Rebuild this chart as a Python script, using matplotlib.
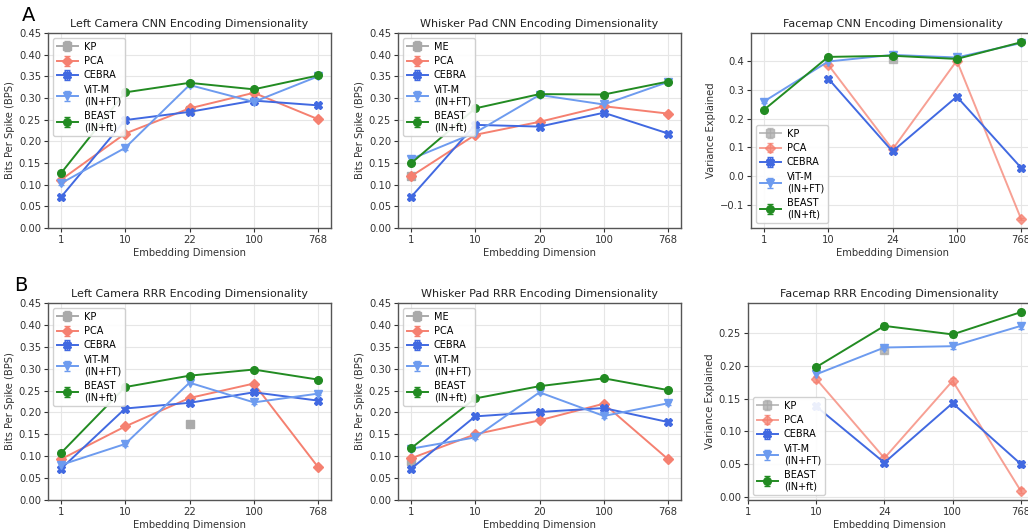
import matplotlib
matplotlib.use("Agg")
import matplotlib.pyplot as plt
import numpy as np

nan = np.nan

# ---- data ----
x_labels_lc = ["1", "10", "22", "100", "768"]
x_labels_wp = ["1", "10", "20", "100", "768"]
x_labels_fm = ["1", "10", "24", "100", "768"]

# A: CNN encoding
lc_cnn_kp = [nan, nan, 0.272, nan, nan]
lc_cnn_pca = [0.111, 0.218, 0.276, 0.312, 0.251]
lc_cnn_cebra = [0.071, 0.249, 0.268, 0.294, 0.283]
lc_cnn_vit = [0.103, 0.185, 0.330, 0.291, 0.350]
lc_cnn_beast = [0.126, 0.313, 0.335, 0.320, 0.352]

wp_cnn_me = [0.119, nan, nan, nan, nan]
wp_cnn_pca = [0.119, 0.215, 0.245, 0.281, 0.264]
wp_cnn_cebra = [0.071, 0.238, 0.234, 0.266, 0.218]
wp_cnn_vit = [0.159, 0.220, 0.307, 0.285, 0.337]
wp_cnn_beast = [0.149, 0.276, 0.309, 0.308, 0.338]

fm_cnn_kp = [nan, nan, 0.405, nan, nan]
fm_cnn_pca = [nan, 0.387, 0.093, 0.401, -0.149]
fm_cnn_cebra = [nan, 0.339, 0.086, 0.276, 0.029]
fm_cnn_vit = [0.259, 0.398, 0.421, 0.412, 0.462]
fm_cnn_beast = [0.230, 0.414, 0.418, 0.407, 0.465]

# B: RRR encoding
lc_rrr_kp = [nan, nan, 0.173, nan, nan]
lc_rrr_pca = [0.093, 0.168, 0.233, 0.266, 0.075]
lc_rrr_cebra = [0.071, 0.209, 0.222, 0.246, 0.227]
lc_rrr_vit = [0.080, 0.128, 0.268, 0.223, 0.243]
lc_rrr_beast = [0.107, 0.258, 0.284, 0.298, 0.275]

wp_rrr_me = [0.088, nan, nan, nan, nan]
wp_rrr_pca = [0.095, 0.150, 0.182, 0.220, 0.093]
wp_rrr_cebra = [0.071, 0.191, 0.201, 0.210, 0.178]
wp_rrr_vit = [0.117, 0.143, 0.246, 0.192, 0.221]
wp_rrr_beast = [0.118, 0.232, 0.260, 0.278, 0.251]

fm_rrr_kp = [nan, nan, 0.224, nan, nan]
fm_rrr_pca = [nan, 0.180, 0.059, 0.177, 0.009]
fm_rrr_cebra = [nan, 0.138, 0.052, 0.143, 0.050]
fm_rrr_vit = [nan, 0.187, 0.228, 0.230, 0.261]
fm_rrr_beast = [nan, 0.198, 0.261, 0.248, 0.282]

err = 0.004  # small error bars (barely visible)

styles = {
    "KP": dict(color="#aaaaaa", marker="s"),
    "ME": dict(color="#aaaaaa", marker="s"),
    "PCA": dict(color="#f58070", marker="D"),
    "CEBRA": dict(color="#4169e1", marker="X"),
    "ViT-M\n(IN+FT)": dict(color="#6d9bef", marker="v"),
    "BEAST\n(IN+ft)": dict(color="#228b22", marker="o"),
}

W, H = 1028, 529
fig = plt.figure(figsize=(W / 100, H / 100), dpi=100)


def px_axes(left, top, width, height):
    return fig.add_axes([left / W, 1 - (top + height) / H, width / W, height / H])


def panel(ax, title, xlabels, series, ylabel, legend_loc, ylim, yticks, xlim=None,
          light=False):
    x = np.arange(len(xlabels))
    for name, vals in series:
        st = styles[name]
        a = 1.0
        if light and name in ("KP", "ME", "PCA"):
            a = 0.75
        ax.errorbar(x, vals, yerr=err, color=st["color"], marker=st["marker"],
                    markersize=5.5, linewidth=1.4, capsize=2.5, elinewidth=1.0,
                    label=name, alpha=a)
    ax.set_xticks(x)
    ax.set_xticklabels(xlabels)
    if xlim is not None:
        ax.set_xlim(*xlim)
    else:
        ax.set_xlim(-0.2, len(xlabels) - 0.8)
    ax.set_ylim(*ylim)
    ax.set_yticks(yticks)
    ax.grid(True, color="#e6e6e6", linewidth=0.8)
    ax.set_axisbelow(True)
    ax.set_title(title, fontsize=8, pad=4, color="#222222")
    ax.set_xlabel("Embedding Dimension", fontsize=7.2, labelpad=2, color="#333333")
    ax.set_ylabel(ylabel, fontsize=7.2, labelpad=3, color="#333333")
    ax.tick_params(labelsize=7.2, length=3, colors="#333333", pad=2)
    for s in ax.spines.values():
        s.set_color("#555555")
        s.set_linewidth(1.0)
    ax.legend(loc=legend_loc, fontsize=7, handlelength=2.2, borderpad=0.4,
              labelspacing=0.45, handletextpad=0.6, framealpha=0.9)


bps_ticks = np.arange(0, 0.451, 0.05)

# Row A
ax = px_axes(48, 33, 283, 195)
panel(ax, "Left Camera CNN Encoding Dimensionality", x_labels_lc,
      [("KP", lc_cnn_kp), ("PCA", lc_cnn_pca), ("CEBRA", lc_cnn_cebra),
       ("ViT-M\n(IN+FT)", lc_cnn_vit), ("BEAST\n(IN+ft)", lc_cnn_beast)],
      "Bits Per Spike (BPS)", "upper left", (0, 0.45), bps_ticks)

ax = px_axes(398, 33, 283, 195)
panel(ax, "Whisker Pad CNN Encoding Dimensionality", x_labels_wp,
      [("ME", wp_cnn_me), ("PCA", wp_cnn_pca), ("CEBRA", wp_cnn_cebra),
       ("ViT-M\n(IN+FT)", wp_cnn_vit), ("BEAST\n(IN+ft)", wp_cnn_beast)],
      "Bits Per Spike (BPS)", "upper left", (0, 0.45), bps_ticks)

ax = px_axes(751, 33, 283, 195)
panel(ax, "Facemap CNN Encoding Dimensionality", x_labels_fm,
      [("KP", fm_cnn_kp), ("PCA", fm_cnn_pca), ("CEBRA", fm_cnn_cebra),
       ("ViT-M\n(IN+FT)", fm_cnn_vit), ("BEAST\n(IN+ft)", fm_cnn_beast)],
      "Variance Explained", "lower left", (-0.18, 0.497),
      [-0.1, 0.0, 0.1, 0.2, 0.3, 0.4], light=True)

# Row B
ax = px_axes(48, 303, 283, 197)
panel(ax, "Left Camera RRR Encoding Dimensionality", x_labels_lc,
      [("KP", lc_rrr_kp), ("PCA", lc_rrr_pca), ("CEBRA", lc_rrr_cebra),
       ("ViT-M\n(IN+FT)", lc_rrr_vit), ("BEAST\n(IN+ft)", lc_rrr_beast)],
      "Bits Per Spike (BPS)", "upper left", (0, 0.45), bps_ticks)

ax = px_axes(398, 303, 283, 197)
panel(ax, "Whisker Pad RRR Encoding Dimensionality", x_labels_wp,
      [("ME", wp_rrr_me), ("PCA", wp_rrr_pca), ("CEBRA", wp_rrr_cebra),
       ("ViT-M\n(IN+FT)", wp_rrr_vit), ("BEAST\n(IN+ft)", wp_rrr_beast)],
      "Bits Per Spike (BPS)", "upper left", (0, 0.45), bps_ticks)

ax = px_axes(748, 303, 283, 197)
panel(ax, "Facemap RRR Encoding Dimensionality", x_labels_fm,
      [("KP", fm_rrr_kp), ("PCA", fm_rrr_pca), ("CEBRA", fm_rrr_cebra),
       ("ViT-M\n(IN+FT)", fm_rrr_vit), ("BEAST\n(IN+ft)", fm_rrr_beast)],
      "Variance Explained", "lower left", (-0.005, 0.296),
      [0.0, 0.05, 0.10, 0.15, 0.20, 0.25], xlim=(0, 4.15), light=True)

fig.text(22 / W, 1 - 21 / H, "A", fontsize=14, va="baseline", ha="left")
fig.text(14 / W, 1 - 291 / H, "B", fontsize=14, va="baseline", ha="left")

fig.savefig("out.png", dpi=100)
